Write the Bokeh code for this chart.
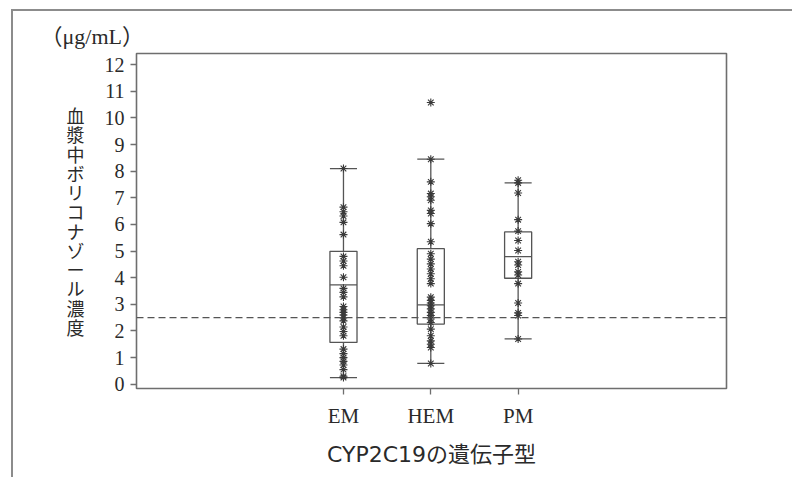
from bokeh.plotting import figure
from bokeh.models import Range1d, FixedTicker, Span
from bokeh.embed import file_html
from bokeh.resources import INLINE

# ---- data ----
groups = ["EM", "HEM", "PM"]
positions = [1, 2, 3]
whisker_low = [0.25, 0.78, 1.70]
q1 = [1.57, 2.26, 3.98]
median = [3.73, 2.98, 4.79]
q3 = [4.99, 5.09, 5.72]
whisker_high = [8.10, 8.45, 7.56]

em_values = [0.25, 0.30, 0.55, 0.72, 0.86, 1.00, 1.15, 1.32, 1.82, 1.98, 2.15,
             2.38, 2.50, 2.60, 2.70, 2.80, 2.92, 3.28, 3.45, 3.60, 4.02, 4.45,
             4.63, 4.80, 5.62, 6.08, 6.32, 6.48, 6.65, 8.10]
hem_values = [0.78, 1.38, 1.50, 1.63, 1.82, 2.07, 2.32, 2.45, 2.58, 2.70, 2.83,
              2.95, 3.05, 3.15, 3.27, 3.78, 3.96, 4.15, 4.33, 4.52, 4.70, 4.90,
              5.35, 6.03, 6.41, 6.53, 6.91, 7.04, 7.16, 7.60, 8.45, 10.58]
pm_values = [1.70, 2.58, 2.68, 3.05, 3.78, 4.10, 4.22, 4.48, 4.60, 5.02, 5.40,
             5.75, 6.18, 7.18, 7.56, 7.66]
threshold = 2.5

y_ticks = list(range(0, 13))
y_title = "血漿中ボリコナゾール濃度"
x_title = "CYP2C19の遺伝子型"
unit_text = "（μg/mL）"

LINE = "#555555"
TXT = "#2a2a2a"

p = figure(width=781, height=468, output_backend="svg", toolbar_location=None,
           x_range=Range1d(-1.37, 5.386), y_range=Range1d(-0.16, 12.42),
           min_border_left=123, min_border_right=68, min_border_top=42,
           min_border_bottom=91)
p.margin = (9, 0, 0, 11)
p.styles = {"border-top": "2px solid #8c8c8c", "border-left": "2px solid #8c8c8c"}

# unit label as title
p.title.text = unit_text
p.title.align = "left"
p.title.offset = -96
p.title.standoff = 9
p.title.text_font = "Liberation Serif, Noto Sans CJK JP"
p.title.text_font_size = "22px"
p.title.text_font_style = "normal"
p.title.text_color = TXT

p.grid.visible = False
p.outline_line_color = "#6e6e6e"
p.outline_line_width = 1.6

for ax in (p.xaxis[0], p.yaxis[0]):
    ax.axis_line_color = None
    ax.major_tick_line_color = "#6e6e6e"
    ax.major_tick_line_width = 1.3
    ax.major_tick_out = 6
    ax.major_tick_in = 0
    ax.minor_tick_line_color = None
    ax.major_label_text_color = TXT
    ax.major_label_text_font = "Liberation Serif"

p.yaxis.ticker = FixedTicker(ticks=y_ticks)
p.yaxis.major_label_text_font_size = "20px"
p.yaxis.major_label_standoff = 6
p.yaxis.axis_label = "\n".join(y_title)
p.yaxis.axis_label_orientation = "horizontal"
p.yaxis.axis_label_text_font = "Noto Sans CJK JP"
p.yaxis.axis_label_text_font_style = "normal"
p.yaxis.axis_label_text_font_size = "18px"
p.yaxis.axis_label_text_line_height = 0.74
p.yaxis.axis_label_text_color = TXT
p.yaxis.axis_label_standoff = 17

p.xaxis.ticker = FixedTicker(ticks=positions)
p.xaxis.major_label_overrides = {pos: g for pos, g in zip(positions, groups)}
p.xaxis.major_label_text_font_size = "21px"
p.xaxis.major_label_standoff = 9
p.xaxis.axis_label = x_title
p.xaxis.axis_label_text_font = "DejaVu Sans, Noto Sans CJK JP"
p.xaxis.axis_label_text_font_style = "normal"
p.xaxis.axis_label_text_font_size = "22px"
p.xaxis.axis_label_text_color = TXT
p.xaxis.axis_label_standoff = 11

# threshold line
p.add_layout(Span(location=threshold, dimension="width", line_color="#555555",
                  line_width=1.3, line_dash="7 4"))

# boxes
bw = 0.31
p.vbar(x=positions, width=bw, bottom=q1, top=q3, fill_color=None,
       line_color=LINE, line_width=1.3)
p.segment(x0=[x - bw / 2 for x in positions], x1=[x + bw / 2 for x in positions],
          y0=median, y1=median, line_color=LINE, line_width=1.3)
# whiskers
p.segment(x0=positions, x1=positions, y0=whisker_low, y1=q1, line_color=LINE, line_width=1.3)
p.segment(x0=positions, x1=positions, y0=q3, y1=whisker_high, line_color=LINE, line_width=1.3)
p.segment(x0=[x - bw / 2 for x in positions], x1=[x + bw / 2 for x in positions],
          y0=whisker_low, y1=whisker_low, line_color=LINE, line_width=1.3)
p.segment(x0=[x - bw / 2 for x in positions], x1=[x + bw / 2 for x in positions],
          y0=whisker_high, y1=whisker_high, line_color=LINE, line_width=1.3)

# points
for pos, vals in zip(positions, [em_values, hem_values, pm_values]):
    p.scatter(x=[pos] * len(vals), y=vals, marker="asterisk", size=8,
              line_color="#3a3a3a", line_width=1.1)

open("out.html", "w").write(file_html(p, INLINE))
